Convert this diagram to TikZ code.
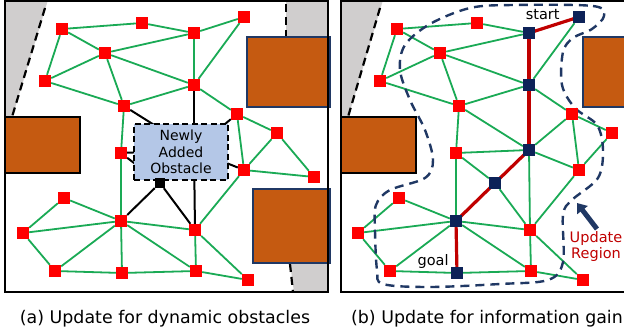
\documentclass[tikz,border=0pt]{standalone}
\usepackage{fontspec}
\setmainfont{DejaVu Sans}
\usetikzlibrary{arrows.meta}
\definecolor{nodered}{HTML}{FF0000}
\definecolor{navy}{HTML}{0D2258}
\definecolor{edgegreen}{HTML}{1AAA55}
\definecolor{pathred}{HTML}{C00000}
\definecolor{orng}{HTML}{C55A11}
\definecolor{obsblue}{HTML}{B4C7E7}
\definecolor{grayzone}{HTML}{D0CECE}
\definecolor{borderblue}{HTML}{203864}
\tikzset{
  rn/.style={rectangle,fill=nodered,minimum size=12pt,inner sep=0pt},
  bn/.style={rectangle,fill=navy,minimum size=12pt,inner sep=0pt},
  kn/.style={rectangle,fill=black,minimum size=10pt,inner sep=0pt},
  ge/.style={draw=edgegreen,line width=1.8pt},
  ke/.style={draw=black,line width=2pt},
  pe/.style={draw=pathred,line width=3.2pt},
  frame/.style={draw=black,line width=2.2pt},
  obsL/.style={fill=orng,draw=black,line width=2.4pt},
  obsR/.style={fill=orng,draw=borderblue,line width=2.4pt},
  gz/.style={fill=grayzone},
  wall/.style={draw=black,line width=2.2pt,dash pattern=on 8pt off 5pt},
  newobs/.style={fill=obsblue,draw=black,line width=2.4pt,dash pattern=on 6pt off 3.5pt,
     align=center,inner sep=0pt,font=\fontsize{14}{16.5}\selectfont},
  lbl/.style={font=\fontsize{14.5}{16}\selectfont,inner sep=0pt},
  captxt/.style={font=\fontsize{17.4}{20}\selectfont,inner sep=0pt},
  region/.style={draw=borderblue,line width=2.4pt,dash pattern=on 9pt off 6pt}
}
\begin{document}
\begin{tikzpicture}[x=1pt,y=-1pt]
\useasboundingbox (0,0) rectangle (624,328);
\clip (0,0) rectangle (624,328);
\fill[white] (0,0) rectangle (624,328);

% ---------------- panel (a) ----------------
\fill[gz] (5,0) -- (48,0) -- (12,118) -- (5,118) -- cycle;
\draw[wall] (45,8) -- (12,117);
\fill[gz] (286,0) rectangle (328,37);
\draw[wall] (286,4) -- (286,36);
\fill[gz] (290,263) -- (328,263) -- (328,292) -- (294,292) -- cycle;
\draw[wall] (290,264) -- (293,292);
\draw[obsL] (5,117) rectangle (80,173);
\draw[obsR] (247,37) rectangle (330,107);
\draw[obsR] (253,189) rectangle (330,263);

\node[rn] (a1) at (62,29) {};
\node[rn] (a2) at (142,23) {};
\node[rn] (a3) at (194,33) {};
\node[rn] (a4) at (244,17) {};
\node[rn] (a5) at (105,53) {};
\node[rn] (a6) at (45,81) {};
\node[rn] (a7) at (194,85) {};
\node[rn] (a8) at (124,106) {};
\node[rn] (a9) at (237,114) {};
\node[rn] (a10) at (277,133) {};
\node[rn] (a11) at (121,153) {};
\node[rn] (a12) at (244,170) {};
\node[rn] (a13) at (314,177) {};
\node[rn] (a14) at (64,198) {};
\node[rn] (a15) at (121,221) {};
\node[rn] (a16) at (23,233) {};
\node[rn] (a17) at (195,230) {};
\node[rn] (a18) at (55,271) {};
\node[rn] (a19) at (122,273) {};
\node[rn] (a20) at (196,271) {};
\node[rn] (a21) at (248,280) {};
\coordinate (a22) at (194,150);
\node[kn] (a23) at (160,183) {};

\foreach \u/\v in {a1/a2,a2/a3,a3/a4,a1/a5,a1/a6,a5/a3,a5/a6,a5/a7,a5/a8,a6/a8,a3/a7,a4/a7,a7/a8,a7/a9,a9/a10,a8/a11,a11/a15,a9/a12,a10/a12,a10/a13,a12/a13,a12/a17,a14/a15,a14/a16,a16/a15,a16/a18,a18/a15,a18/a19,a15/a19,a15/a17,a15/a20,a17/a20,a17/a21,a19/a20,a20/a21}
  \draw[ge] (\u) -- (\v);
\foreach \u/\v in {a8/a22,a7/a22,a9/a22,a11/a22,a11/a23,a12/a22,a17/a22,a23/a15,a23/a17}
  \draw[ke] (\u) -- (\v);

\node[newobs,minimum width=94pt,minimum height=56pt] (obst) at (181,152) {Newly\\Added\\Obstacle};

% redraw nodes on top
\foreach \n/\x/\y in {a1/62/29,a2/142/23,a3/194/33,a4/244/17,a5/105/53,a6/45/81,a7/194/85,a8/124/106,a9/237/114,a10/277/133,a11/121/153,a12/244/170,a13/314/177,a14/64/198,a15/121/221,a16/23/233,a17/195/230,a18/55/271,a19/122/273,a20/196/271,a21/248/280}
  \node[rn] at (\x,\y) {};
\node[kn] at (160,183) {};

\draw[frame] (5,1) rectangle (328,292);

% ---------------- panel (b) ----------------
\fill[gz] (341,0) -- (383,0) -- (348,118) -- (341,118) -- cycle;
\draw[wall] (380,8) -- (348,117);
\draw[obsL] (341,117) rectangle (416,173);
\draw[obsR] (583,37) rectangle (666,107);

\begin{scope}[xshift=335pt]
\node[rn] (b1) at (62,29) {};
\node[rn] (b2) at (142,23) {};
\node[bn] (b3) at (194,33) {};
\node[bn] (b4) at (244,17) {};
\node[rn] (b5) at (105,53) {};
\node[rn] (b6) at (45,81) {};
\node[bn] (b7) at (194,85) {};
\node[rn] (b8) at (124,106) {};
\node[rn] (b9) at (237,114) {};
\node[rn] (b10) at (277,133) {};
\node[rn] (b11) at (121,153) {};
\node[rn] (b12) at (244,170) {};
\node[rn] (b14) at (64,198) {};
\node[bn] (b15) at (121,221) {};
\node[rn] (b16) at (23,233) {};
\node[rn] (b17) at (195,230) {};
\node[rn] (b18) at (55,271) {};
\node[bn] (b19) at (122,273) {};
\node[rn] (b20) at (196,271) {};
\node[rn] (b21) at (248,280) {};
\node[bn] (b22) at (194,150) {};
\node[bn] (b23) at (160,183) {};
\end{scope}

\foreach \u/\v in {b1/b2,b2/b3,b1/b5,b1/b6,b5/b3,b5/b6,b5/b7,b5/b8,b6/b8,b4/b7,b7/b8,b7/b9,b9/b10,b8/b11,b11/b15,b9/b12,b10/b12,b12/b17,b14/b15,b14/b16,b16/b15,b16/b18,b18/b15,b18/b19,b15/b20,b17/b20,b17/b21,b19/b20,b20/b21,b15/b17,b8/b22,b9/b22,b11/b22,b12/b22,b11/b23,b22/b17,b23/b17}
  \draw[ge] (\u) -- (\v);
\foreach \u/\v in {b4/b3,b3/b7,b7/b22,b22/b23,b23/b15,b15/b19}
  \draw[pe] (\u.center) -- (\v.center);

\draw[region] plot[smooth cycle,tension=0.55] coordinates {
 (513,5) (593,6) (604,16) (592,29) (573,38) (563,52) (562,85) (575,108) (597,125)
 (603,150) (598,178) (572,200) (563,215) (563,262) (548,280) (500,284) (430,287)
 (383,284) (377,270) (375,230) (376,205) (390,190) (425,178) (433,160) (425,130)
 (410,100) (400,70) (405,45) (430,24) (470,8)};

\foreach \n/\x/\y in {b1/397/29,b2/477/23,b5/440/53,b6/380/81,b8/459/106,b9/572/114,b10/612/133,b11/456/153,b12/579/170,b14/399/198,b16/358/233,b17/530/230,b18/390/271,b20/531/271,b21/583/280}
  \node[rn] at (\x,\y) {};
\foreach \n/\x/\y in {b3/529/33,b4/579/17,b7/529/85,b15/456/221,b19/457/273,b22/529/150,b23/495/183}
  \node[bn] at (\x,\y) {};

\node[lbl,anchor=east] (startlbl) at ([xshift=-13pt,yshift=2pt]b4.west) {start};
\node[lbl,anchor=east] (goallbl) at ([xshift=-2pt,yshift=11pt]b19.west) {goal};
\node[lbl,text=pathred,align=center] (upd) at (596,247) {Update\\Region};
\coordinate (arrtail) at (597,229);
\coordinate (arrhead) at (577,203);
\draw[draw=borderblue,line width=5pt,-{Triangle[length=9pt,width=13pt]}] (arrtail) -- (arrhead);

\draw[frame] (341,1) rectangle (666,292);

% captions
\node[captxt] (capa) at (165,319) {(a) Update for dynamic obstacles};
\node[captxt] (capb) at (487,319) {(b) Update for information gain};
\end{tikzpicture}
\end{document}
